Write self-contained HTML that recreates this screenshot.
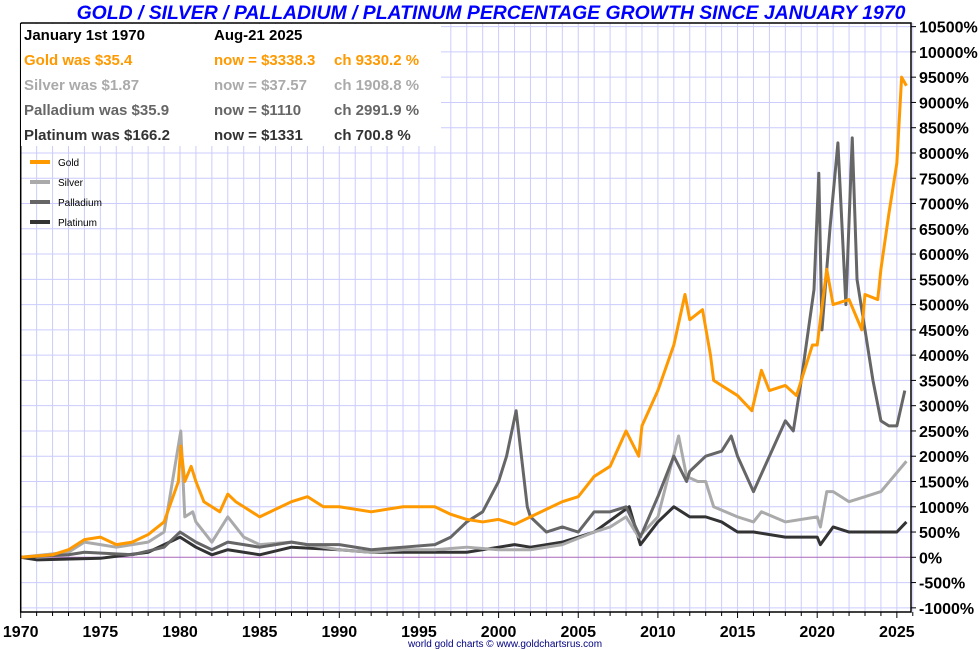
<!DOCTYPE html>
<html><head><meta charset="utf-8"><style>
body{margin:0;background:#fff;font-family:"Liberation Sans",sans-serif}
svg{display:block}
</style></head><body>
<svg id="chart" width="980" height="650">
<text x="491" y="19" text-anchor="middle" font-size="19.4" font-weight="bold" font-style="italic" fill="#0000ff">GOLD / SILVER / PALLADIUM / PLATINUM PERCENTAGE GROWTH SINCE JANUARY 1970</text>
<g id="grid"></g><g id="series"></g><g id="axes"></g>
<rect x="21" y="24" width="420" height="122" fill="#fff"/>
<g font-size="15" font-weight="bold">
<text x="24" y="40" fill="#000">January 1st 1970</text><text x="214" y="40" fill="#000">Aug-21  2025</text>
<text x="24" y="65" fill="#ff9900">Gold was $35.4</text><text x="214" y="65" fill="#ff9900">now = $3338.3</text><text x="334" y="65" fill="#ff9900">ch 9330.2 %</text>
<text x="24" y="90" fill="#aaaaaa">Silver was $1.87</text><text x="214" y="90" fill="#aaaaaa">now = $37.57</text><text x="334" y="90" fill="#aaaaaa">ch 1908.8 %</text>
<text x="24" y="115" fill="#666">Palladium was $35.9</text><text x="214" y="115" fill="#666">now = $1110</text><text x="334" y="115" fill="#666">ch 2991.9 %</text>
<text x="24" y="140" fill="#333">Platinum was $166.2</text><text x="214" y="140" fill="#333">now = $1331</text><text x="334" y="140" fill="#333">ch 700.8 %</text>
</g>
<g id="legend" font-size="10"></g>
<text x="505" y="647" text-anchor="middle" font-size="10" fill="#000080">world gold charts © www.goldchartsrus.com</text>
</svg>
<script>
const goldX=[1970,1972,1973,1974,1975,1976,1977,1978,1979,1979.9,1980.05,1980.3,1980.7,1981,1981.5,1982.5,1983,1983.5,1984,1985,1986,1987,1988,1989,1990,1991,1992,1993,1994,1995,1996,1997,1998,1999,2000,2001,2002,2003,2004,2005,2006,2007,2008,2008.8,2009,2010,2011,2011.7,2012,2012.8,2013.3,2013.5,2014,2015,2015.9,2016.5,2017,2018,2018.7,2019,2019.7,2020,2020.6,2021,2022,2022.8,2023,2023.8,2024,2024.5,2025,2025.3,2025.6];
const goldY=[0,50,150,350,400,250,300,450,700,1500,2200,1500,1800,1500,1100,900,1250,1100,1000,800,950,1100,1200,1000,1000,950,900,950,1000,1000,1000,850,750,700,750,650,800,950,1100,1200,1600,1800,2500,2000,2600,3300,4200,5200,4700,4900,4000,3500,3400,3200,2900,3700,3300,3400,3200,3500,4200,4200,5700,5000,5100,4500,5200,5100,5700,6800,7800,9500,9330];
const silverX=[1970,1973,1974,1975,1976,1977,1978,1979,1980.05,1980.3,1980.8,1981,1982,1983,1983.5,1984,1985,1987,1988,1990,1992,1994,1996,1998,2000,2002,2004,2006,2007,2008,2008.8,2010,2011.3,2011.8,2012.5,2013,2013.5,2015,2016,2016.5,2018,2020,2020.2,2020.6,2021,2022,2023,2024,2024.8,2025.6];
const silverY=[0,100,300,250,200,250,300,500,2500,800,900,700,300,800,600,400,250,300,250,150,100,150,150,200,150,150,250,500,600,800,400,800,2400,1600,1500,1500,1000,800,700,900,700,800,600,1300,1300,1100,1200,1300,1600,1900];
const pallX=[1970,1973,1974,1977,1979,1980,1981,1982,1983,1984,1985,1986,1987,1988,1990,1992,1994,1996,1997,1998,1999,2000,2000.5,2001.1,2001.8,2002,2003,2004,2005,2006,2007,2008,2008.9,2010,2011,2011.8,2012,2013,2014,2014.6,2015,2016,2017,2018,2018.5,2019,2019.8,2020.1,2020.3,2020.8,2021.3,2021.8,2022.2,2022.5,2023,2023.5,2024,2024.5,2025,2025.5];
const pallY=[0,50,100,50,200,500,300,150,300,250,200,250,300,250,250,150,200,250,400,700,900,1500,2000,2900,1000,800,500,600,500,900,900,1000,400,1200,2000,1500,1700,2000,2100,2400,2000,1300,2000,2700,2500,3500,5300,7600,4500,6500,8200,5000,8300,5500,4500,3500,2700,2600,2600,3300];
const platX=[1970,1971,1975,1978,1980,1981,1982,1983,1985,1987,1990,1992,1996,1998,2000,2001,2002,2004,2006,2008.2,2008.9,2010,2011,2012,2013,2014,2015,2016,2018,2020,2020.2,2021,2022,2024,2025,2025.6];
const platY=[0,-50,-20,100,400,200,50,150,50,200,150,100,100,100,200,250,200,300,500,1000,250,700,1000,800,800,700,500,500,400,400,250,600,500,500,500,700];
const yTicks=[-1000,-500,0,500,1000,1500,2000,2500,3000,3500,4000,4500,5000,5500,6000,6500,7000,7500,8000,8500,9000,9500,10000,10500];
const xLabels=[1970,1975,1980,1985,1990,1995,2000,2005,2010,2015,2020,2025];
const NS="http://www.w3.org/2000/svg";
const L=20.7,R=911,T=23,B=612;
const xs=v=>L+(v-1970)*15.93;
const ys=v=>557.3-v*25.27/500;
function mk(p,t,a){const e=document.createElementNS(NS,t);for(const k in a)e.setAttribute(k,a[k]);p.appendChild(e);return e;}
const grid=document.getElementById('grid'),axes=document.getElementById('axes'),ser=document.getElementById('series'),leg=document.getElementById('legend');
for(let yr=1970;yr<=2026;yr++){const l=mk(grid,'line',{x1:xs(yr),x2:xs(yr),y1:T,y2:B,stroke:'#ccccff','stroke-width':1});


const t=mk(axes,'line',{x1:xs(yr),x2:xs(yr),y1:B,y2:B+(yr%5==0?6:4),stroke:'#000'});

}
yTicks.forEach(v=>{const l=mk(grid,'line',{x1:L,x2:R,y1:ys(v),y2:ys(v),stroke:v==0?'#aa66bb':'#ccccff','stroke-width':1});


const t=mk(axes,'line',{x1:R,x2:R+5,y1:ys(v),y2:ys(v),stroke:'#000'});


const tx=mk(axes,'text',{x:R+8,y:ys(v)+6,'font-size':16,'font-weight':'bold'});tx.textContent=v+'%';

});
xLabels.forEach(v=>{const tx=mk(axes,'text',{x:xs(v),y:637,'font-size':16,'font-weight':'bold','text-anchor':'middle'});tx.textContent=v;

});
const ax=mk(axes,'path',{d:`M${L},${T}V${B}H${R}V${T}H${L}`,fill:'none',stroke:'#000','stroke-width':1.5});


const S=[['platinum',platX,platY,'#333333'],['silver',silverX,silverY,'#aaaaaa'],['palladium',pallX,pallY,'#666666'],['gold',goldX,goldY,'#ff9900']];
S.forEach(([n,X,Y,c])=>{const p=mk(ser,'polyline',{points:X.map((x,i)=>xs(x)+','+ys(Y[i])).join(' '),fill:'none',stroke:c,'stroke-width':3,'stroke-linejoin':'round'});

});
[['Gold','#ff9900'],['Silver','#aaaaaa'],['Palladium','#666666'],['Platinum','#333333']].forEach(([n,c],i)=>{const y=162+i*20;
const l=mk(leg,'line',{x1:30,x2:50,y1:y,y2:y,stroke:c,'stroke-width':4});


const t=mk(leg,'text',{x:58,y:y+4});t.textContent=n;

});
</script>
</body></html>
